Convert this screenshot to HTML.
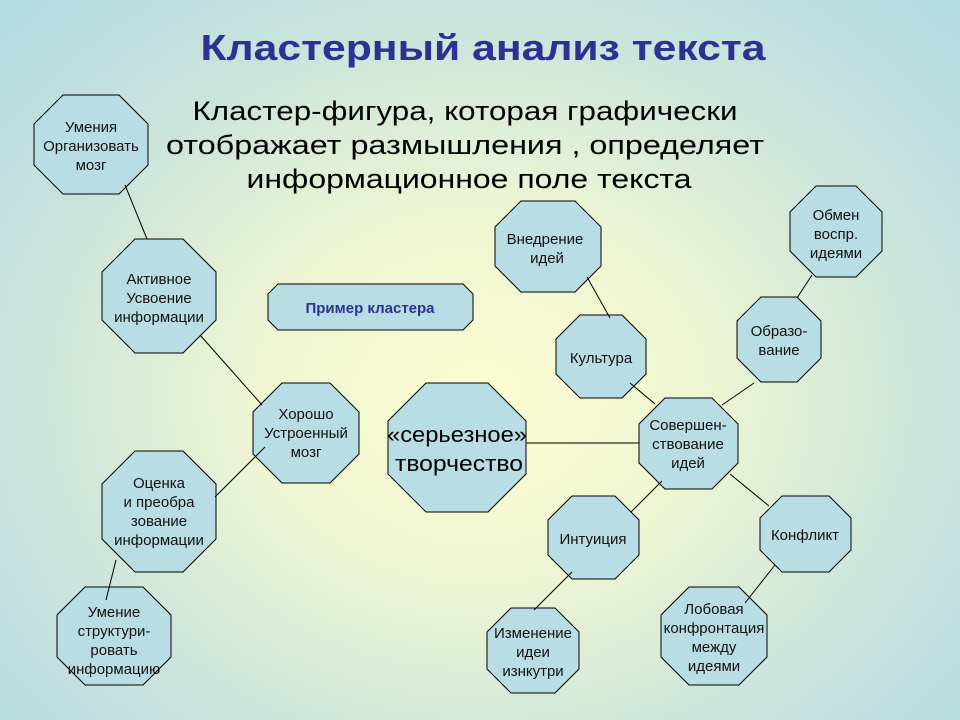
<!DOCTYPE html>
<html><head><meta charset="utf-8"><style>
html,body{margin:0;padding:0;width:960px;height:720px;overflow:hidden}
body{background:radial-gradient(ellipse 68% 75% at 50% 55%,#fbfdd2 0%,#eef5d2 35%,#cbe5dc 68%,#b5dbe2 100%)}
svg{position:absolute;left:0;top:0}
text{font-family:"Liberation Sans",sans-serif}
</style></head><body>
<svg width="960" height="720" viewBox="0 0 960 720">
<g fill="#b9dde4" stroke="#000" stroke-width="1">
<polygon points="63,95 119,95 148,124 148,165 119,194 63,194 34,165 34,124"/>
<polygon points="135,239 183,239 216,272 216,320 183,353 135,353 102,320 102,272"/>
<polygon points="282,383 330,383 359,412 359,454 330,483 282,483 253,454 253,412"/>
<polygon points="426,383 488,383 526,421 526,474 488,512 426,512 388,474 388,421"/>
<polygon points="135,451 183,451 216,484 216,539 183,572 135,572 102,539 102,484"/>
<polygon points="85,587 143,587 171,615 171,657 143,685 85,685 57,657 57,615"/>
<polygon points="521,201 575,201 601,227 601,266 575,292 521,292 495,266 495,227"/>
<polygon points="580,315 622,315 646,339 646,374 622,398 580,398 556,374 556,339"/>
<polygon points="816,186 856,186 882,212 882,251 856,277 816,277 790,251 790,212"/>
<polygon points="761,297 797,297 821,321 821,358 797,382 761,382 737,358 737,321"/>
<polygon points="665,398 712,398 738,424 738,463 712,489 665,489 639,463 639,424"/>
<polygon points="572,496 615,496 639,520 639,555 615,579 572,579 548,555 548,520"/>
<polygon points="782,496 829,496 851,518 851,550 829,572 782,572 760,550 760,518"/>
<polygon points="511,608 555,608 579,632 579,669 555,693 511,693 487,669 487,632"/>
<polygon points="689,587 739,587 767,615 767,657 739,685 689,685 661,657 661,615"/>
<polygon points="278,284 463,284 473,294 473,320 463,330 278,330 268,320 268,294"/>
</g>
<g stroke="#000" stroke-width="1">
<line x1="125" y1="185" x2="147" y2="239"/>
<line x1="200" y1="335" x2="262" y2="405"/>
<line x1="265" y1="447" x2="215" y2="497"/>
<line x1="116" y1="560" x2="106" y2="600"/>
<line x1="526" y1="443" x2="639" y2="443"/>
<line x1="587" y1="277" x2="610" y2="318"/>
<line x1="630" y1="383" x2="655" y2="404"/>
<line x1="754" y1="383" x2="722" y2="405"/>
<line x1="812" y1="275" x2="797" y2="298"/>
<line x1="662" y1="481" x2="631" y2="512"/>
<line x1="730" y1="474" x2="769" y2="506"/>
<line x1="572" y1="572" x2="534" y2="610"/>
<line x1="775" y1="565" x2="745" y2="603"/>
</g>
<text x="483" y="60" text-anchor="middle" font-size="36" font-weight="bold" fill="#2e3192" textLength="565" lengthAdjust="spacingAndGlyphs">Кластерный анализ текста</text>
<g font-size="27" fill="#000" text-anchor="middle">
<text x="465" y="120" textLength="545" lengthAdjust="spacingAndGlyphs">Кластер-фигура, которая графически</text>
<text x="465" y="154" textLength="598" lengthAdjust="spacingAndGlyphs">отображает размышления , определяет</text>
<text x="469" y="188" textLength="445" lengthAdjust="spacingAndGlyphs">информационное поле текста</text>
</g>
<text x="370" y="313" text-anchor="middle" font-size="15" font-weight="bold" fill="#2e3192">Пример кластера</text>
<g font-size="15" fill="#111" text-anchor="middle">
<text x="91" y="132">Умения</text><text x="91" y="151">Организовать</text><text x="91" y="170">мозг</text>
<text x="159" y="284">Активное</text><text x="159" y="303">Усвоение</text><text x="159" y="322">информации</text>
<text x="306" y="419">Хорошо</text><text x="306" y="438">Устроенный</text><text x="306" y="457">мозг</text>
<text x="159" y="488">Оценка</text><text x="159" y="507">и преобра</text><text x="159" y="526">зование</text><text x="159" y="545">информации</text>
<text x="114" y="617">Умение</text><text x="114" y="636">структури-</text><text x="114" y="655">ровать</text><text x="114" y="674">информацию</text>
<text x="545" y="244">Внедрение</text><text x="547" y="263">идей</text>
<text x="601" y="363">Культура</text>
<text x="836" y="220">Обмен</text><text x="836" y="239">воспр.</text><text x="836" y="258">идеями</text>
<text x="779" y="336">Образо-</text><text x="779" y="355">вание</text>
<text x="688" y="430">Совершен-</text><text x="688" y="449">ствование</text><text x="688" y="468">идей</text>
<text x="593" y="544">Интуиция</text>
<text x="805" y="540">Конфликт</text>
<text x="533" y="638">Изменение</text><text x="533" y="657">идеи</text><text x="533" y="676">изнкутри</text>
<text x="714" y="614">Лобовая</text><text x="714" y="633">конфронтация</text><text x="714" y="652">между</text><text x="714" y="671">идеями</text>
</g>
<g font-size="22" fill="#000" text-anchor="middle">
<text x="457" y="442" textLength="140" lengthAdjust="spacingAndGlyphs">«серьезное»</text><text x="459" y="471" textLength="128" lengthAdjust="spacingAndGlyphs">творчество</text>
</g>
</svg>
</body></html>
